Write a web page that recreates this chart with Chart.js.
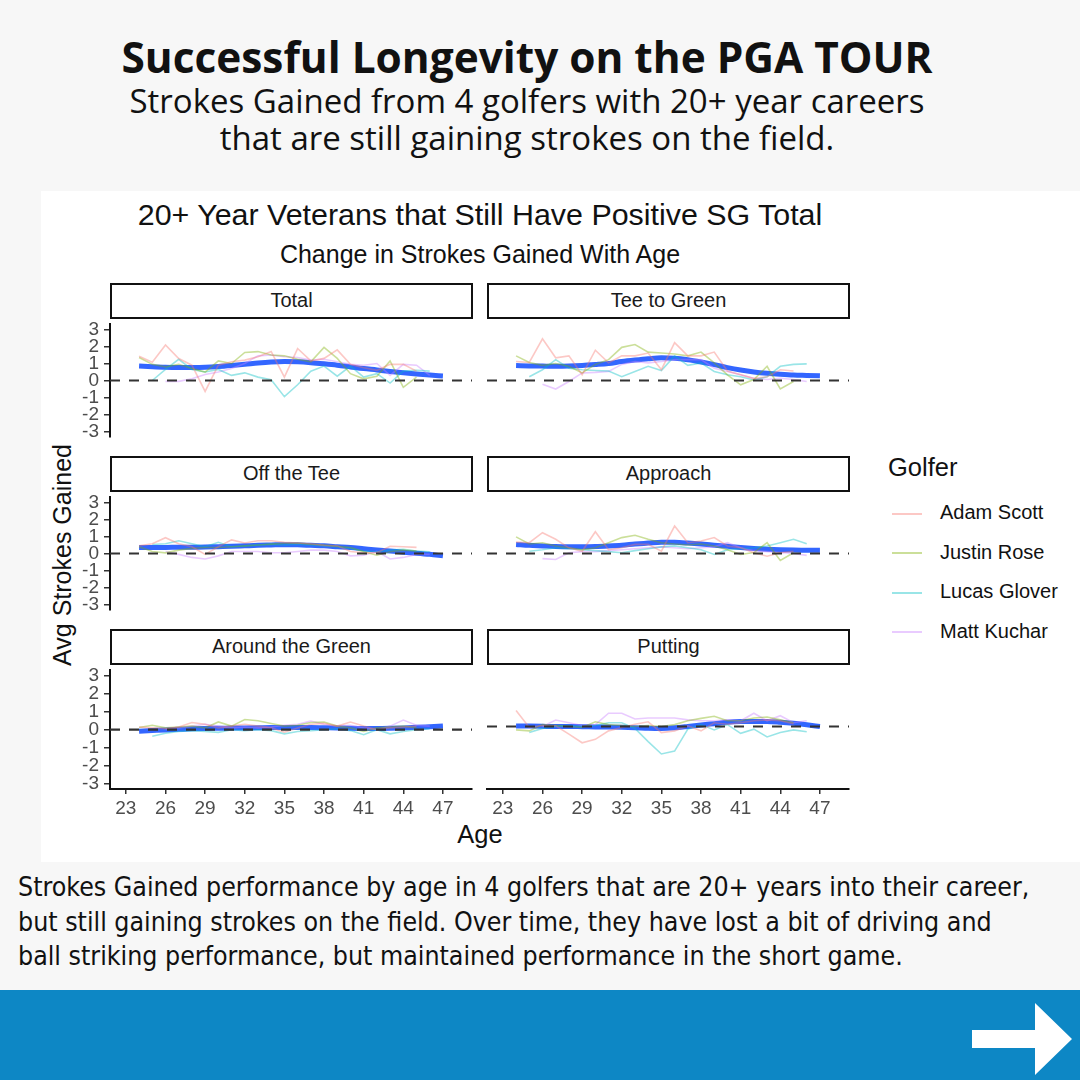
<!DOCTYPE html>
<html>
<head>
<meta charset="utf-8">
<script src="https://cdn.jsdelivr.net/npm/chart.js@4.4.1/dist/chart.umd.min.js"></script>
<style>
  body { margin: 0; background: #f7f7f7; }
  #page { position: relative; width: 1080px; height: 1080px; overflow: hidden; background: #f7f7f7; font-family: "Liberation Sans", Arial, sans-serif; }
  .abs { position: absolute; }
  #head1 { left: 0; width: 1054px; top: 28px; text-align: center; font-family: "Open Sans", sans-serif; font-weight: 700; font-size: 42.4px; color: #111; }
  #head2 { left: 0; width: 1054px; top: 82px; text-align: center; font-family: "Open Sans", sans-serif; font-size: 33px; line-height: 37px; color: #111; }
  #plotBox { left: 41px; top: 191px; width: 1039px; height: 671px; background: #fff; }
  #chartTitle { left: 0; width: 960px; top: 197px; text-align: center; font-size: 30.4px; color: #111; }
  #chartSub { left: 0; width: 960px; top: 240px; text-align: center; font-size: 25px; color: #111; }
  .strip { box-sizing: border-box; border: 2px solid #111; background: #fff; text-align: center; font-size: 20px; color: #1a1a1a; line-height: 31px; }
  #yTitle { left: 62px; top: 555px; transform: translate(-50%, -50%) rotate(-90deg); font-size: 25px; white-space: nowrap; color: #111; }
  #xTitle { left: 480px; top: 834px; transform: translate(-50%, -50%); font-size: 25.5px; color: #111; }
  #legTitle { left: 888px; top: 453px; font-size: 25.5px; color: #111; }
  .legItem { font-size: 20px; color: #111; white-space: nowrap; }
  .legItem span { display: inline-block; width: 30px; height: 2px; vertical-align: middle; margin-right: 18px; margin-left: 4px; }
  #note { left: 18px; top: 870px; font-family: "Liberation Sans Narrow", "DejaVu Sans Condensed", sans-serif; font-size: 26.5px; line-height: 34.5px; color: #111; white-space: nowrap; }
  #band { left: 0; top: 990px; width: 1080px; height: 90px; background: #0d87c5; }
  canvas { position: absolute; }
</style>
</head>
<body>
<div id="page">
  <div class="abs" id="head1">Successful Longevity on the PGA TOUR</div>
  <div class="abs" id="head2">Strokes Gained from 4 golfers with 20+ year careers<br>that are still gaining strokes on the field.</div>
  <div class="abs" id="plotBox"></div>
  <div class="abs" id="chartTitle">20+ Year Veterans that Still Have Positive SG Total</div>
  <div class="abs" id="chartSub">Change in Strokes Gained With Age</div>
  <div class="abs" id="yTitle">Avg Strokes Gained</div>
  <div class="abs" id="xTitle">Age</div>
  <div class="abs" id="legTitle">Golfer</div>
  <div class="abs" id="note">Strokes Gained performance by age in 4 golfers that are 20+ years into their career,<br>but still gaining strokes on the field. Over time, they have lost a bit of driving and<br>ball striking performance, but maintained performance in the short game.</div>
  <div class="abs" id="band"></div>
  <svg class="abs" style="left:970px;top:1000px" width="106" height="78">
    <polygon points="2,30 65,30 65,3 102,39 65,75 65,48 2,48" fill="#fff"/>
  </svg>
</div>
<script>
const ages = [24, 25, 26, 27, 28, 29, 30, 31, 32, 33, 34, 35, 36, 37, 38, 39, 40, 41, 42, 43, 44, 45, 46, 47];
const xTicks = [23, 26, 29, 32, 35, 38, 41, 44, 47];
const yTicks = [-3, -2, -1, 0, 1, 2, 3];
const golfers = ["Adam Scott", "Justin Rose", "Lucas Glover", "Matt Kuchar"];
const golferColors = ["rgba(248,118,109,0.4)", "rgba(124,174,0,0.4)", "rgba(0,191,196,0.4)", "rgba(199,124,255,0.4)"];
const panelNames = ["Total", "Tee to Green", "Off the Tee", "Approach", "Around the Green", "Putting"];

// Total
const totalScott = [1.43, 1.07, 2.09, 1.29, 0.9, -0.64, 0.9, 1.1, 1.2, 1.4, 1.7, 0.2, 1.88, 1.15, 1.3, 1.8, 0.95, 0.75, 0.6, 0.95, 0.95, 0.55, null, null];
const totalRose = [1.35, 0.95, 0.8, 0.95, 0.7, 0.5, 1.15, 1.0, 1.65, 1.7, 1.5, 1.45, 1.25, 1.1, 1.95, 1.3, 0.4, 0.1, 0.25, 1.15, -0.4, 0.2, null, null];
const totalGlover = [null, 0.0, 0.65, 1.25, 0.65, 0.5, 0.65, 0.3, 0.45, 0.2, 0.05, -0.95, -0.25, 0.55, 0.85, 0.25, 0.85, 0.2, 0.4, -0.15, 0.55, 0.6, 0.55, null];
const totalKuchar = [null, null, -0.05, -0.05, 0.1, 0.35, 0.5, 0.7, 1.0, 1.45, 1.5, 1.4, 1.35, 1.2, 1.25, 1.1, 0.95, 0.9, 1.0, 0.3, 0.95, 0.9, 0.3, null];
const totalSmooth = [0.85, 0.81, 0.78, 0.77, 0.77, 0.78, 0.82, 0.88, 0.95, 1.03, 1.09, 1.12, 1.1, 1.05, 0.98, 0.9, 0.8, 0.7, 0.62, 0.53, 0.45, 0.38, 0.32, 0.27];

// Tee to Green
const t2gScott = [1.0, 0.95, 2.2, 1.2, 1.3, 0.3, 1.6, 0.93, 1.3, 1.3, 1.45, 0.57, 2.0, 1.3, 1.3, 1.5, 0.5, 0.3, 0.1, 0.2, 0.57, 0.5, null, null];
const t2gRose = [1.3, 0.95, 0.8, 0.9, 0.75, 0.4, 0.85, 1.1, 1.75, 1.9, 1.5, 1.45, 1.4, 1.3, 1.5, 0.93, 0.3, -0.23, 0.05, 0.75, -0.45, -0.05, null, null];
const t2gGlover = [null, 0.2, 0.57, 1.1, 0.65, 0.57, 0.53, 0.5, 0.2, 0.48, 0.75, 0.53, 1.3, 0.8, 0.93, 0.48, 0.3, 0.2, 0.03, 0.2, 0.75, 0.85, 0.88, null];
const t2gKuchar = [null, null, -0.2, -0.45, -0.05, 0.4, 0.43, 0.48, 0.85, 1.0, 0.93, 1.0, 1.1, 1.1, 1.1, 0.65, 0.48, 0.3, 0.12, 0.05, 0.12, 0.05, -0.05, null];
const t2gSmooth = [0.79, 0.77, 0.76, 0.75, 0.76, 0.79, 0.84, 0.9, 1.0, 1.08, 1.15, 1.2, 1.18, 1.1, 0.98, 0.84, 0.68, 0.55, 0.45, 0.38, 0.33, 0.29, 0.27, 0.25];

// Off the Tee
const ottScott = [0.45, 0.57, 0.93, 0.57, 0.4, -0.05, 0.4, 0.8, 0.62, 0.75, 0.75, 0.66, 0.62, 0.57, 0.48, 0.45, 0.12, 0.04, 0.04, 0.43, 0.4, 0.36, null, null];
const ottRose = [0.4, 0.12, 0.04, 0.2, 0.3, 0.35, 0.35, 0.4, 0.45, 0.5, 0.55, 0.6, 0.62, 0.55, 0.5, 0.42, 0.35, 0.1, -0.1, 0.1, 0.2, 0.15, null, null];
const ottGlover = [null, 0.53, 0.57, 0.75, 0.57, 0.4, 0.66, 0.4, 0.45, 0.5, 0.55, 0.5, 0.55, 0.5, 0.45, 0.4, 0.3, 0.15, 0.1, 0.2, 0.25, 0.15, 0.1, null];
const ottKuchar = [null, null, 0.12, -0.05, -0.23, -0.32, -0.14, 0.12, 0.12, 0.12, 0.04, 0.04, 0.12, 0.2, 0.2, 0.12, -0.14, -0.1, 0.12, -0.32, -0.23, -0.05, -0.05, null];
const ottSmooth = [0.36, 0.36, 0.36, 0.37, 0.37, 0.38, 0.4, 0.42, 0.45, 0.48, 0.5, 0.52, 0.51, 0.48, 0.45, 0.4, 0.35, 0.28, 0.21, 0.15, 0.08, 0.02, -0.05, -0.14];

// Approach
const appScott = [0.6, 0.57, 1.1, 0.75, 0.3, 0.12, 1.15, 0.2, 0.3, 0.48, 0.48, 0.12, 1.45, 0.57, 0.66, 0.84, 0.4, 0.3, 0.04, -0.14, 0.04, 0.12, null, null];
const appRose = [0.88, 0.5, 0.57, 0.4, 0.3, 0.2, 0.3, 0.57, 0.84, 0.96, 0.75, 0.57, 0.5, 0.45, 0.5, 0.4, 0.2, -0.05, 0.05, 0.57, -0.37, 0.04, null, null];
const appGlover = [null, 0.12, 0.2, 0.3, 0.25, 0.2, 0.15, 0.1, 0.04, 0.15, 0.25, 0.35, 0.4, 0.3, 0.2, -0.05, 0.2, 0.25, 0.3, 0.4, 0.57, 0.75, 0.52, null];
const appKuchar = [null, null, -0.27, -0.32, 0.04, 0.1, 0.1, 0.15, 0.2, 0.25, 0.3, 0.35, 0.3, 0.25, 0.3, 0.35, 0.57, 0.3, 0.15, 0.1, 0.05, 0.0, -0.1, null];
const appSmooth = [0.48, 0.43, 0.4, 0.37, 0.36, 0.36, 0.37, 0.4, 0.44, 0.5, 0.55, 0.6, 0.59, 0.55, 0.5, 0.44, 0.38, 0.32, 0.27, 0.23, 0.2, 0.18, 0.17, 0.17];

// Around the Green
const argScott = [0.15, 0.1, 0.05, 0.15, 0.4, 0.3, 0.1, 0.2, 0.3, 0.2, 0.1, -0.14, 0.1, 0.3, 0.35, 0.2, 0.43, 0.2, 0.0, 0.1, 0.15, 0.2, null, null];
const argRose = [0.12, 0.25, 0.1, 0.15, 0.2, 0.1, 0.43, 0.2, 0.57, 0.5, 0.35, 0.2, 0.25, 0.4, 0.43, 0.2, 0.1, -0.1, 0.1, 0.15, 0.2, 0.1, null, null];
const argGlover = [null, -0.36, -0.2, -0.1, -0.05, -0.1, -0.15, 0.0, -0.05, 0.0, -0.05, -0.23, -0.1, -0.05, 0.0, 0.05, -0.05, -0.28, 0.0, -0.23, -0.1, 0.0, 0.05, null];
const argKuchar = [null, null, 0.05, 0.1, 0.2, 0.3, 0.2, 0.1, 0.15, 0.1, 0.15, 0.25, 0.3, 0.48, 0.3, 0.2, 0.25, 0.1, 0.0, 0.2, 0.54, 0.25, 0.2, null];
const argSmooth = [-0.09, -0.05, -0.01, 0.02, 0.05, 0.07, 0.08, 0.09, 0.1, 0.11, 0.12, 0.12, 0.12, 0.12, 0.11, 0.1, 0.08, 0.07, 0.07, 0.08, 0.1, 0.13, 0.17, 0.21];

// Putting
const puttScott = [0.84, -0.05, 0.05, 0.04, -0.4, -0.86, -0.68, -0.23, -0.05, 0.12, 0.25, -0.32, -0.23, 0.04, -0.23, 0.2, 0.12, 0.2, 0.3, 0.35, 0.3, 0.15, null, null];
const puttRose = [-0.18, -0.23, 0.1, 0.05, 0.0, -0.05, 0.25, 0.1, 0.05, 0.0, 0.05, 0.0, 0.1, 0.3, 0.43, 0.54, 0.3, 0.3, 0.45, 0.5, 0.35, 0.2, null, null];
const puttGlover = [null, -0.32, -0.1, 0.0, 0.05, 0.0, 0.05, 0.2, 0.2, -0.1, -0.8, -1.45, -1.3, -0.14, 0.1, -0.18, 0.1, -0.36, -0.14, -0.55, -0.32, -0.18, -0.28, null];
const puttKuchar = [null, null, 0.0, 0.34, 0.2, 0.05, 0.1, 0.7, 0.7, 0.4, 0.45, 0.45, 0.45, 0.35, 0.3, 0.3, 0.35, 0.3, 0.7, 0.3, 0.57, 0.2, 0.3, null];
const puttSmooth = [0.03, 0.02, 0.01, 0, 0, -0.01, -0.02, -0.03, -0.04, -0.06, -0.09, -0.1, -0.07, 0, 0.08, 0.15, 0.22, 0.26, 0.27, 0.27, 0.23, 0.17, 0.09, 0];

const panelSeries = [
  [totalScott, totalRose, totalGlover, totalKuchar, totalSmooth],
  [t2gScott, t2gRose, t2gGlover, t2gKuchar, t2gSmooth],
  [ottScott, ottRose, ottGlover, ottKuchar, ottSmooth],
  [appScott, appRose, appGlover, appKuchar, appSmooth],
  [argScott, argRose, argGlover, argKuchar, argSmooth],
  [puttScott, puttRose, puttGlover, puttKuchar, puttSmooth]
];

const page = document.getElementById("page");

// legend
golfers.forEach((g, i) => {
  const d = document.createElement("div");
  d.className = "abs legItem";
  d.style.left = "888px";
  d.style.top = (501 + i * 39.5) + "px";
  d.innerHTML = '<span style="background:' + golferColors[i] + '"></span>' + g;
  page.appendChild(d);
});

// dashed zero line, drawn over the series like geom_hline
const zeroLine = {
  id: "zeroLine",
  afterDatasetsDraw(chart) {
    const { ctx, chartArea, scales } = chart;
    const py = scales.y.getPixelForValue(0);
    ctx.save();
    ctx.setLineDash([10, 9]);
    ctx.strokeStyle = "#333";
    ctx.lineWidth = 2.2;
    ctx.beginPath();
    ctx.moveTo(chartArea.left, py);
    ctx.lineTo(chartArea.right, py);
    ctx.stroke();
    ctx.restore();
  }
};

const toPoints = arr => ages.map((a, i) => ({ x: a, y: arr[i] }));
const tickFont = { family: "Liberation Sans", size: 19 };

const colLeft = [110, 487];
const rowTop = [318, 491, 664];
const plotW = 362, plotH = 125;

panelNames.forEach((name, p) => {
  const col = p % 2, row = Math.floor(p / 2);
  const showY = col === 0, showX = row === 2;
  const yAxisW = 60;
  const left = colLeft[col] - (showY ? yAxisW : 10);
  const top = rowTop[row] - 10;
  const w = plotW + (showY ? yAxisW : 10) + 10;
  const h = plotH + 10 + (showX ? 36 : 10);

  const strip = document.createElement("div");
  strip.className = "abs strip";
  strip.style.left = colLeft[col] + "px";
  strip.style.top = (rowTop[row] - 35) + "px";
  strip.style.width = (plotW + 1) + "px";
  strip.style.height = "36px";
  strip.textContent = name;
  page.appendChild(strip);

  const cv = document.createElement("canvas");
  cv.width = w; cv.height = h;
  cv.style.left = left + "px"; cv.style.top = top + "px";
  cv.style.width = w + "px"; cv.style.height = h + "px";
  page.appendChild(cv);

  const series = panelSeries[p];
  const datasets = golfers.map((g, i) => ({
    label: g,
    data: toPoints(series[i]),
    borderColor: golferColors[i],
    borderWidth: 1.6,
    pointRadius: 0,
    tension: 0
  }));
  datasets.push({
    label: "Smooth",
    data: toPoints(series[4]),
    borderColor: "#3366ff",
    borderWidth: 5,
    pointRadius: 0,
    cubicInterpolationMode: "monotone"
  });

  new Chart(cv, {
    type: "line",
    data: { datasets },
    options: {
      responsive: false,
      animation: false,
      layout: { padding: { top: 10, bottom: showX ? 0 : 10, left: showY ? 0 : 10, right: 10 } },
      plugins: { legend: { display: false }, tooltip: { enabled: false } },
      scales: {
        x: {
          type: "linear",
          min: 21.8,
          max: 49.2,
          display: showX,
          afterBuildTicks: s => { s.ticks = xTicks.map(v => ({ value: v })); },
          afterFit: s => { if (showX) s.height = 36; },
          grid: { drawOnChartArea: false, drawTicks: true, tickLength: 5, color: "#333", lineWidth: 1.5 },
          border: { display: true, color: "#111", width: 2 },
          ticks: { font: tickFont, color: "#4d4d4d", padding: 3, maxRotation: 0, autoSkip: false }
        },
        y: {
          min: -3.3,
          max: 3.3,
          display: showY,
          afterBuildTicks: s => { s.ticks = yTicks.map(v => ({ value: v })); },
          afterFit: s => { if (showY) s.width = yAxisW; },
          grid: { drawOnChartArea: false, drawTicks: true, tickLength: 6, color: "#333", lineWidth: 1.5 },
          border: { display: true, color: "#111", width: 2 },
          ticks: { font: tickFont, color: "#4d4d4d", padding: 5, autoSkip: false }
        }
      }
    },
    plugins: [zeroLine]
  });
});
</script>
</body>
</html>
